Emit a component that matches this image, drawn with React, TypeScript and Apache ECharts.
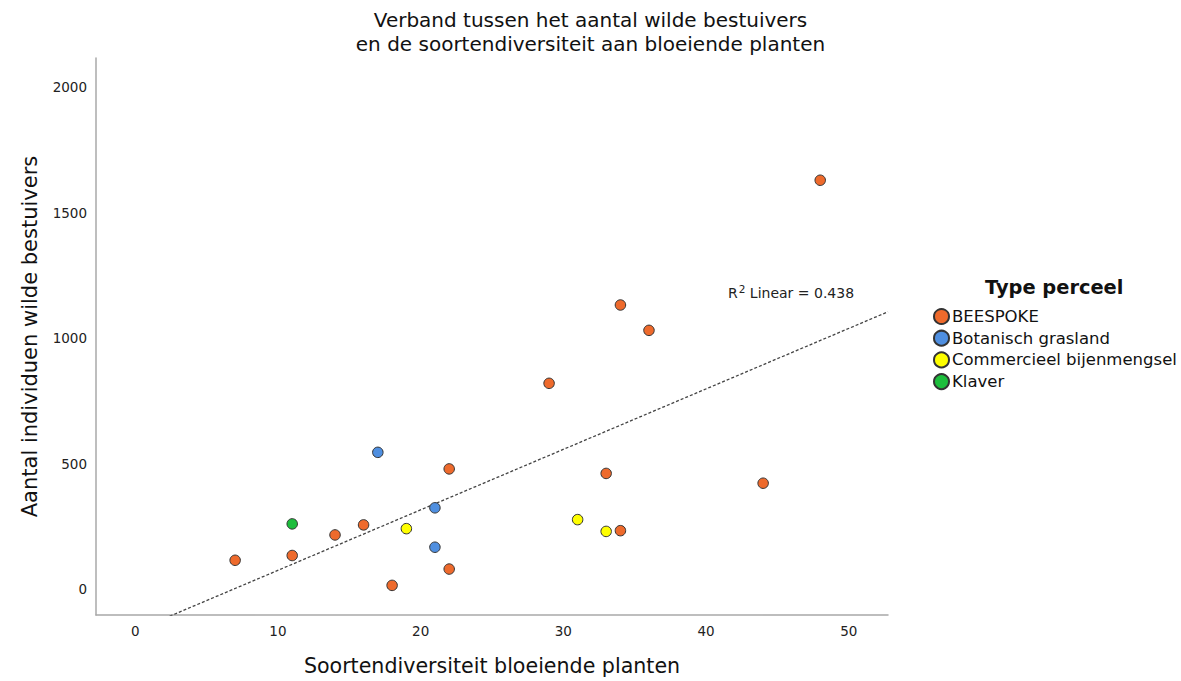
import React, { useEffect, useRef } from "react";
import * as echarts from "echarts";

const titleLines = [
  "Verband tussen het aantal wilde bestuivers",
  "en de soortendiversiteit aan bloeiende planten",
];
const xAxisName = "Soortendiversiteit bloeiende planten";
const yAxisName = "Aantal individuen wilde bestuivers";
const legendTitle = "Type perceel";
const groupNames = ["BEESPOKE", "Botanisch grasland", "Commercieel bijenmengsel", "Klaver"];
const groupColors = ["#EE6A2C", "#4F8FE0", "#FFFF00", "#1DBE3C"];

// [soortendiversiteit, aantal individuen]
const beespoke: [number, number][] = [
  [7, 116], [11, 135], [14, 217], [16, 257], [18, 16], [22, 480], [22, 81],
  [29, 821], [33, 462], [34, 1133], [34, 234], [36, 1032], [44, 423], [48, 1630],
];
const botanisch: [number, number][] = [[17, 546], [21, 325], [21, 168]];
const commercieel: [number, number][] = [[19, 242], [31, 278], [33, 231]];
const klaver: [number, number][] = [[11, 261]];

const xMin = -2.75;
const xMax = 52.75;
const yMin = -102;
const yMax = 2117;
const r2Label = "0.438";

function linearFit(points: [number, number][]) {
  const n = points.length;
  const mx = points.reduce((s, p) => s + p[0], 0) / n;
  const my = points.reduce((s, p) => s + p[1], 0) / n;
  let sxy = 0;
  let sxx = 0;
  points.forEach(([x, y]) => {
    sxy += (x - mx) * (y - my);
    sxx += (x - mx) * (x - mx);
  });
  const b = sxy / sxx;
  const a = my - b * mx;
  return { a, b };
}

export default function App() {
  const ref = useRef<HTMLDivElement>(null);
  useEffect(() => {
    if (!ref.current) return;
    const chart = echarts.init(ref.current, undefined, { renderer: "svg" });
    const groups = [beespoke, botanisch, commercieel, klaver];
    const all = groups.flat() as [number, number][];
    const fit = linearFit(all);
    const fitLine = [
      [xMin, fit.a + fit.b * xMin],
      [xMax, fit.a + fit.b * xMax],
    ];
    const font = "DejaVu Sans";
    const axisLabel = {
      showMinLabel: false,
      showMaxLabel: false,
      margin: 9,
      fontFamily: font,
      fontSize: 13.5,
      color: "#222",
      formatter: (v: number) => String(v),
    };
    chart.setOption({
      animation: false,
      backgroundColor: "#ffffff",
      textStyle: { fontFamily: font },
      title: {
        text: titleLines.join("\n"),
        left: "center",
        top: 3,
        textStyle: { fontFamily: font, fontSize: 20, fontWeight: "normal", color: "#111", lineHeight: 24 },
      },
      grid: { left: 96, right: 293, top: 58, bottom: 64, containLabel: false },
      legend: {
        data: groupNames,
        orient: "vertical",
        left: 928,
        top: 303,
        icon: "circle",
        itemWidth: 15,
        itemHeight: 15,
        itemGap: 4.7,
        textStyle: { fontFamily: font, fontSize: 16.5, color: "#111", padding: [0, 0, 0, -2] },
        selectedMode: false,
      },
      graphic: [
        {
          type: "text",
          left: 985,
          top: 278,
          style: { text: legendTitle, fontFamily: font, fontSize: 19.4, fontWeight: "bold", fill: "#111" },
        },
        {
          type: "text",
          left: 728,
          top: 283,
          style: {
            text: "{r|R}{s|2}{r| Linear = " + r2Label + "}",
            rich: {
              r: { fontFamily: font, fontSize: 14, fill: "#222", lineHeight: 18 },
              s: { fontFamily: font, fontSize: 10.5, fill: "#222", lineHeight: 18, padding: [0, 0, 9, 1] },
            },
          },
        },
      ],
      xAxis: {
        type: "value",
        min: xMin,
        max: xMax,
        splitNumber: 5,
        name: xAxisName,
        nameLocation: "middle",
        nameGap: 40,
        nameTextStyle: { fontFamily: font, fontSize: 20.6, color: "#111" },
        axisLine: { show: true, onZero: false, lineStyle: { color: "#a8a8a8", width: 1.5 } },
        axisTick: { show: false },
        splitLine: { show: false },
        axisLabel,
      },
      yAxis: {
        type: "value",
        min: yMin,
        max: yMax,
        splitNumber: 5,
        name: yAxisName,
        nameLocation: "middle",
        nameGap: 56,
        nameRotate: 90,
        nameTextStyle: { fontFamily: font, fontSize: 21, color: "#111" },
        axisLine: { show: true, onZero: false, lineStyle: { color: "#a8a8a8", width: 1.5 } },
        axisTick: { show: false },
        splitLine: { show: false },
        axisLabel,
      },
      series: [
        {
          name: "fit",
          type: "line",
          data: fitLine,
          symbol: "none",
          clip: true,
          silent: true,
          lineStyle: { color: "#444", width: 1.3, type: [3, 2] },
          z: 1,
        },
        ...groups.map((g, i) => ({
          name: groupNames[i],
          type: "scatter",
          data: g,
          symbol: "circle",
          symbolSize: 10.5,
          itemStyle: { color: groupColors[i], borderColor: "#333", borderWidth: 1, opacity: 1 },
          z: 3,
        })),
      ],
    });
    return () => chart.dispose();
  }, []);
  return <div ref={ref} style={{ position: "fixed", left: 0, top: 0, width: 1181, height: 681 }} />;
}
